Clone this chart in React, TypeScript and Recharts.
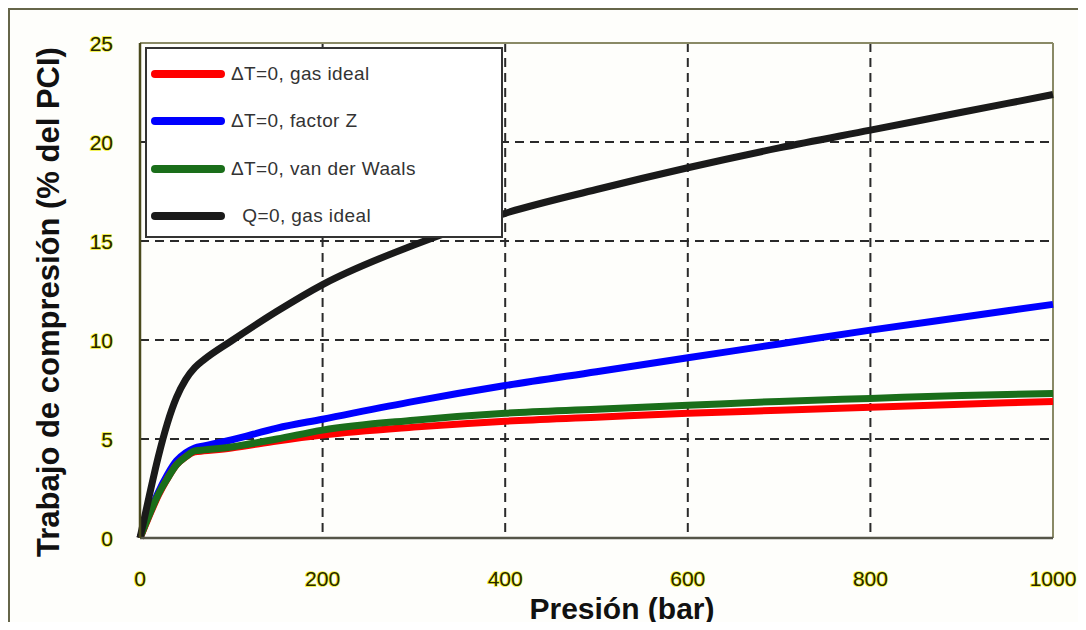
import { CartesianGrid, Label, Legend, Line, LineChart, ReferenceLine, XAxis, YAxis } from "recharts";

// pressure (bar) and compression work (% of PCI)
const pressure = [0, 10, 20, 30, 40, 50, 60, 70, 100, 150, 200, 300, 400, 500, 600, 700, 800, 900, 1000];
const isoIdeal = [0, 1.1, 2.15, 3.0, 3.7, 4.1, 4.35, 4.4, 4.55, 4.9, 5.2, 5.6, 5.9, 6.1, 6.3, 6.45, 6.6, 6.75, 6.9];
const isoFactorZ = [0, 1.2, 2.3, 3.2, 3.9, 4.3, 4.55, 4.65, 4.95, 5.55, 6.0, 6.9, 7.7, 8.4, 9.1, 9.8, 10.5, 11.15, 11.8];
const isoVanDerWaals = [0, 1.15, 2.2, 3.0, 3.7, 4.1, 4.4, 4.45, 4.6, 5.0, 5.45, 5.95, 6.3, 6.5, 6.7, 6.9, 7.05, 7.2, 7.3];
const adiabIdeal = [0, 2.1, 4.1, 5.8, 7.1, 8.0, 8.6, 9.0, 9.95, 11.45, 12.8, 14.8, 16.4, 17.6, 18.7, 19.7, 20.6, 21.5, 22.4];

const xTicks = [0, 200, 400, 600, 800, 1000];
const yTicks = [0, 5, 10, 15, 20, 25];

const series = [
  { key: "iso", name: "\u0394T=0, gas ideal", color: "#ff0000" },
  { key: "z", name: "\u0394T=0, factor Z", color: "#0000ff" },
  { key: "vdw", name: "\u0394T=0, van der Waals", color: "#1a6e1a" },
  { key: "q", name: "  Q=0, gas ideal", color: "#1a1a1a" },
];

const data = pressure.map((p, i) => ({
  p,
  iso: isoIdeal[i],
  z: isoFactorZ[i],
  vdw: isoVanDerWaals[i],
  q: adiabIdeal[i],
}));

const FONT = "Arial, 'Liberation Sans', sans-serif";

const tickText = {
  fontFamily: FONT,
  fontSize: 21,
  fill: "#262600",
  stroke: "#f2f230",
  strokeWidth: 1.6,
  paintOrder: "stroke" as const,
};

function XTick({ x, y, payload }: any) {
  return (
    <text x={x} y={y + 40} textAnchor="middle" dominantBaseline="central" style={tickText}>
      {payload.value}
    </text>
  );
}

function YTick({ x, y, payload }: any) {
  return (
    <text x={x - 27} y={y} textAnchor="end" dominantBaseline="central" style={tickText}>
      {payload.value}
    </text>
  );
}

function LegendBox() {
  return (
    <div
      style={{
        width: 354,
        height: 187,
        border: "2px solid #333",
        background: "#ffffff",
        position: "relative",
        fontFamily: FONT,
      }}
    >
      {series.map((s, i) => (
        <div
          key={s.key}
          style={{
            position: "absolute",
            left: 0,
            top: 25 - 12 + i * 47.3,
            height: 24,
            display: "flex",
            alignItems: "center",
          }}
        >
          <svg width={84} height={24}>
            <line x1={8} y1={12} x2={74} y2={12} stroke={s.color} strokeWidth={8} strokeLinecap="round" />
          </svg>
          <span style={{ fontSize: 19, color: "#333", whiteSpace: "pre", letterSpacing: 0.4 }}>{s.name}</span>
        </div>
      ))}
    </div>
  );
}

export default function App() {
  return (
    <div style={{ position: "relative", width: 1086, height: 630, margin: -8, overflow: "hidden", background: "#fff" }}>
      <div
        style={{
          position: "absolute",
          left: 8,
          top: 8,
          width: 1072,
          height: 640,
          border: "2px solid #66664a",
          background: "#fefefb",
        }}
      />
      <div style={{ position: "absolute", left: 0, top: 0 }}>
        <LineChart width={1086} height={630} data={data} margin={{ top: 43, right: 33, bottom: 62, left: 0 }}>
          <CartesianGrid stroke="#2a2a2a" strokeWidth={2} strokeDasharray="9 6" />
          <XAxis
            dataKey="p"
            type="number"
            domain={[0, 1000]}
            ticks={xTicks}
            height={30}
            tickSize={0}
            tickMargin={0}
            tick={<XTick />}
            axisLine={{ stroke: "#555548", strokeWidth: 2.5 }}
          >
            <Label
              content={() => (
                <text x={622} y={619} textAnchor="middle" fontFamily={FONT} fontWeight="bold" fontSize={30} fill="#111">
                  Presión (bar)
                </text>
              )}
            />
          </XAxis>
          <YAxis
            type="number"
            domain={[0, 25]}
            ticks={yTicks}
            width={140}
            tickSize={0}
            tickMargin={0}
            tick={<YTick />}
            axisLine={{ stroke: "#4a4a1c", strokeWidth: 2.5 }}
          >
            <Label
              content={() => (
                <text
                  x={0}
                  y={0}
                  transform="translate(59 302) rotate(-90)"
                  textAnchor="middle"
                  fontFamily={FONT}
                  fontWeight="bold"
                  fontSize={31}
                  fill="#111"
                >
                  Trabajo de compresión (% del PCI)
                </text>
              )}
            />
          </YAxis>
          <ReferenceLine y={25} stroke="#8a8a66" strokeWidth={2} />
          <ReferenceLine x={1000} stroke="#8a8a66" strokeWidth={2} />
          <Legend
            layout="vertical"
            align="center"
            verticalAlign="middle"
            wrapperStyle={{ position: "absolute", left: 145, top: 47, width: 358, height: 191 }}
            content={() => <LegendBox />}
          />
          <Line type="monotone" dataKey="z" name={series[1].name} stroke="#0000ff" strokeWidth={7} dot={false} isAnimationActive={false} />
          <Line type="monotone" dataKey="iso" name={series[0].name} stroke="#ff0000" strokeWidth={7} dot={false} isAnimationActive={false} />
          <Line type="monotone" dataKey="vdw" name={series[2].name} stroke="#1a6e1a" strokeWidth={7} dot={false} isAnimationActive={false} />
          <Line type="monotone" dataKey="q" name={series[3].name} stroke="#1a1a1a" strokeWidth={7} dot={false} isAnimationActive={false} />
        </LineChart>
      </div>
    </div>
  );
}
